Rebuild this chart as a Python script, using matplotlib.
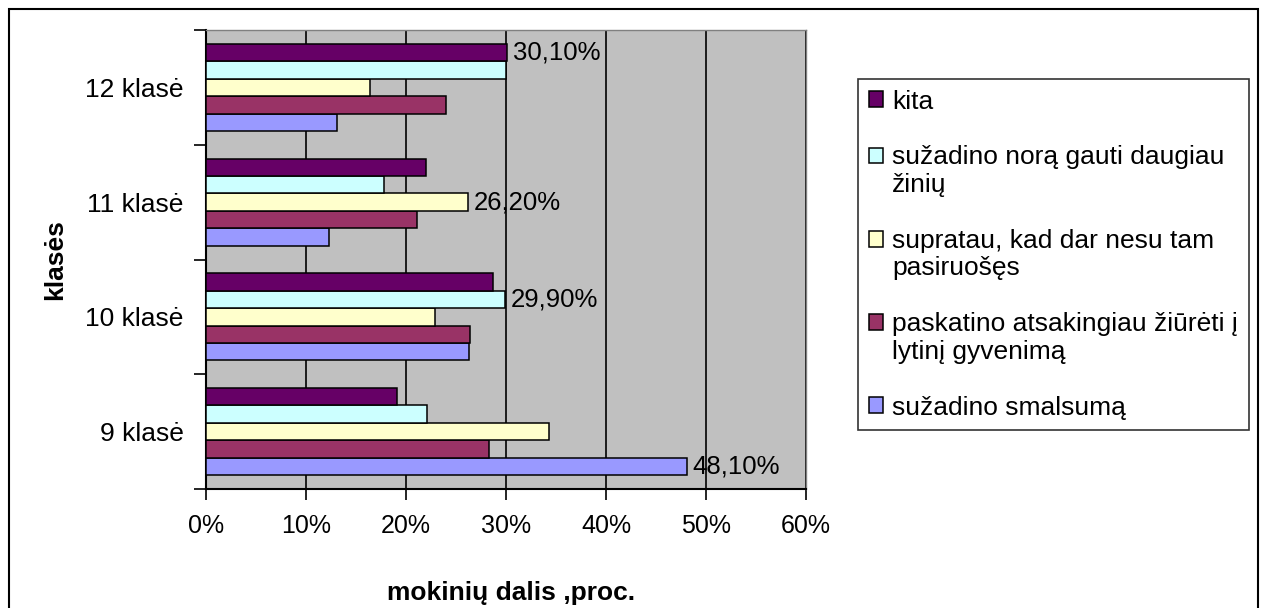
import numpy as np
import matplotlib
matplotlib.use('Agg')
from matplotlib import pyplot as plt
from matplotlib.patches import Rectangle, Patch
from matplotlib.legend_handler import HandlerBase
from matplotlib.ticker import FuncFormatter

plt.rcParams['font.family'] = ['Liberation Sans', 'DejaVu Sans']

# Duomenys (proc.), klasės nuo apačios į viršų
klases = ['9 klasė', '10 klasė', '11 klasė', '12 klasė']
serijos = [
    'sužadino smalsumą',
    'paskatino atsakingiau žiūrėti į\nlytinį gyvenimą',
    'supratau, kad dar nesu tam\npasiruošęs',
    'sužadino norą gauti daugiau\nžinių',
    'kita',
]
smalsuma = [48.1, 26.3, 12.3, 13.1]
paskatino = [28.3, 26.4, 21.1, 24.0]
supratau = [34.3, 22.9, 26.2, 16.4]
ziniu = [22.1, 29.9, 17.8, 30.0]
kita = [19.1, 28.7, 22.0, 30.1]
reiksmes = [smalsuma, paskatino, supratau, ziniu, kita]
spalvos = ['#9999FF', '#993366', '#FFFFCC', '#CCFFFF', '#660066']

# kuri serija kiekvienoje klasėje turi etiketę
etiketes_serija = [0, 3, 2, 4]


class VirsutinisKvadratas(HandlerBase):
    # legendos kvadratelis prie pirmos eilutės, ne per vidurį
    def create_artists(self, legend, orig_handle, xdescent, ydescent,
                       width, height, fontsize, trans):
        shift = 0.6 * fontsize * (getattr(orig_handle, 'eilutes', 1) - 1)
        p = Rectangle((-xdescent, -ydescent + shift), width, height,
                      facecolor=orig_handle.get_facecolor(),
                      edgecolor='black', linewidth=1.1, transform=trans)
        return [p]


fig = plt.figure(figsize=(12.65, 6.08), dpi=100)
ax = fig.add_axes([206 / 1265, 1 - 489 / 608, 600 / 1265, 459 / 608])
ax.set_facecolor('#C0C0C0')

y = np.arange(len(klases))
h = 0.152
for i, (vals, col) in enumerate(zip(reiksmes, spalvos)):
    ax.barh(y + (i - 2) * h, vals, height=h, color=col,
            edgecolor='black', linewidth=1.1, zorder=3)

for k, s in enumerate(etiketes_serija):
    v = reiksmes[s][k]
    ax.annotate(f'{v:.2f}%'.replace('.', ','), xy=(v, y[k] + (s - 2) * h),
                xytext=(4, 0), textcoords='offset points',
                va='center', ha='left', fontsize=18.5, zorder=4)

ax.set_xlim(0, 60)
ax.set_ylim(-0.5, len(klases) - 0.5)
ax.set_xticks(np.arange(0, 61, 10))
ax.xaxis.set_major_formatter(FuncFormatter(lambda v, p: f'{v:.0f}%'))
ax.grid(axis='x', color='black', linewidth=1.2, zorder=1)

ax.set_yticks(np.arange(-0.5, len(klases), 1))
ax.set_yticklabels([])
ax.set_yticks(y, minor=True)
ax.set_yticklabels(klases, minor=True)
ax.tick_params(axis='y', which='major', length=9, width=1.2, direction='out')
ax.tick_params(axis='y', which='minor', length=0, pad=16, labelsize=19)
ax.tick_params(axis='x', length=8, width=1.2, direction='out', pad=10,
               labelsize=18)

for sp in ['top', 'right']:
    ax.spines[sp].set_color('#808080')
    ax.spines[sp].set_linewidth(1.0)
for sp in ['left', 'bottom']:
    ax.spines[sp].set_color('black')
    ax.spines[sp].set_linewidth(1.5)

fig.text(511 / 1265, 1 - 593 / 608, 'mokinių dalis ,proc.', ha='center',
         va='center', fontsize=19, fontweight='bold')
fig.text(55 / 1265, 1 - 260 / 608, 'klasės', ha='center', va='center',
         rotation=90, fontsize=19, fontweight='bold')

handles = []
for c, lab in zip(spalvos, serijos):
    p = Patch(facecolor=c, edgecolor='black', linewidth=1.1)
    p.eilutes = lab.count('\n') + 1
    handles.append(p)
leg = fig.legend(handles[::-1], serijos[::-1], loc='upper left',
                 bbox_to_anchor=(858 / 1265, 1 - 79 / 608),
                 bbox_transform=fig.transFigure, fontsize=19,
                 frameon=True, fancybox=False, edgecolor='black',
                 handlelength=0.55, handleheight=0.55, handletextpad=0.35,
                 labelspacing=1.2, borderpad=0.4, borderaxespad=0,
                 handler_map={Patch: VirsutinisKvadratas()})
leg.get_frame().set_linewidth(1.2)

fig.patches.append(Rectangle((9 / 1265, -0.01), 1249 / 1265, 1 - 9 / 608 + 0.01,
                             transform=fig.transFigure, fill=False,
                             edgecolor='black', linewidth=1.5))

fig.savefig('out.png', dpi=100)
